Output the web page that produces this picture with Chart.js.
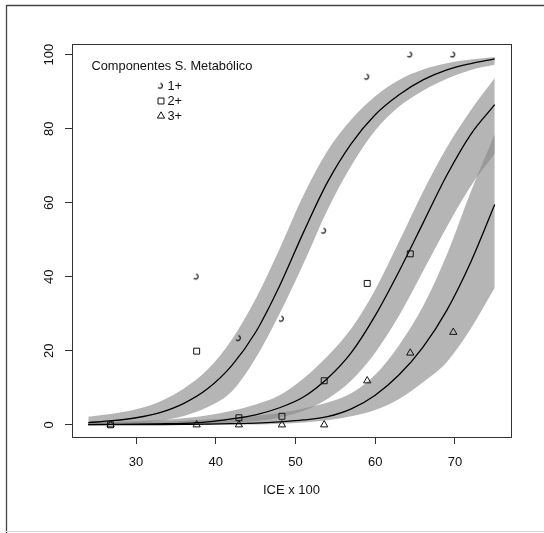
<!DOCTYPE html>
<html><head><meta charset="utf-8">
<script src="https://cdn.jsdelivr.net/npm/chart.js@4/dist/chart.umd.min.js"></script>
<style>html,body{margin:0;padding:0;background:#fff;}canvas{display:block;}</style>
</head><body>
<canvas id="c" width="544" height="533"></canvas>
<script>
// observed proportions (%)
const obsX = [26.8, 37.6, 42.9, 48.3, 53.6, 59.0, 64.4, 69.8];
const obs1 = [null, 40.0, 23.4, 28.6, 52.4, 94.0, 100, 100];
const obs2 = [0, 19.9, 1.9, 2.3, 11.9, 38.2, 46.2, null];
const obs3 = [0, 0, 0, 0, 0, 11.9, 19.4, 25.0];

// fitted curves and confidence bands (%)
const curveX = [24, 27, 30, 33, 36, 39, 42, 45, 48, 51, 54, 57, 60, 63, 66, 69, 72, 75];
const fit1 = [0.6, 1.1, 1.9, 3.3, 5.8, 9.8, 16, 25, 37.5, 52, 65.5, 76, 83.8, 89.2, 93.2, 95.9, 97.6, 98.9];
const up1  = [2.2, 3.0, 4.2, 6.3, 9.8, 15, 23, 34, 47.5, 62, 74, 82.5, 88.8, 93.2, 96, 97.7, 98.7, 99.4];
const lo1  = [0.1, 0.2, 0.5, 1.1, 2.4, 4.8, 9, 18, 30, 43.5, 58, 70, 79.5, 86, 90.3, 93.5, 95.9, 97.3];
const fit2 = [0.05, 0.1, 0.15, 0.25, 0.4, 0.8, 1.6, 2.7, 4.6, 7.5, 12.5, 19.5, 29.5, 41.5, 54.5, 67.5, 78.5, 86.5];
const up2  = [0.6, 0.8, 1.0, 1.3, 1.8, 2.6, 3.8, 5.5, 8, 12.5, 18.5, 26, 36.5, 49.5, 63, 75, 85, 93.7];
const lo2  = [0, 0, 0, 0.05, 0.1, 0.2, 0.5, 1.0, 2.0, 3.8, 7, 12, 19.5, 29.5, 41.5, 53.5, 64.5, 73.3];
const fit3 = [0.02, 0.03, 0.05, 0.08, 0.12, 0.18, 0.3, 0.45, 0.8, 1.3, 2.2, 4.3, 8.0, 13.5, 21, 31, 44, 59.5];
const up3  = [0.5, 0.6, 0.7, 0.9, 1.1, 1.4, 1.8, 2.4, 3.2, 4.4, 6.0, 8.5, 13.5, 21.5, 32, 46, 63, 78.5];
const lo3  = [0, 0, 0, 0, 0, 0, 0.05, 0.1, 0.3, 0.6, 1.2, 2.3, 4.0, 7.0, 11.5, 17, 26, 37];

const xTicks = [30, 40, 50, 60, 70];
const yTicks = [0, 20, 40, 60, 80, 100];
const seriesNames = ['1+', '2+', '3+'];
const legendTitle = 'Componentes S. Metabólico';
const xTitle = 'ICE x 100';

const FONT = "'Liberation Sans', Arial, sans-serif";
const INK = '#111';
const BAND = 'rgba(135,135,135,0.62)';

function xy(xs, ys) { const o = []; xs.forEach((x, i) => { if (ys[i] !== null && ys[i] !== undefined) o.push({x: x, y: ys[i]}); }); return o; }

function makeGlyph() {
  const c = document.createElement('canvas'); c.width = 8; c.height = 9;
  const g = c.getContext('2d'); g.strokeStyle = INK; g.lineWidth = 1.2;
  g.beginPath(); g.arc(3, 4.3, 2.4, -Math.PI * 0.45, Math.PI * 0.78); g.stroke();
  return c;
}
const glyph = makeGlyph();

function pts(data, style, r) {
  return {data: data, showLine: false, order: 0, pointStyle: style, pointRadius: r, pointHoverRadius: r,
    pointBorderColor: INK, pointBackgroundColor: 'rgba(0,0,0,0)', pointBorderWidth: 1, borderWidth: 0};
}
function fitLine(data) {
  return {data: data, order: 1, borderColor: '#000', borderWidth: 1.3, pointRadius: 0, fill: false, cubicInterpolationMode: 'monotone'};
}
function bandEdge(data, fillTarget) {
  return {data: data, order: 2, borderWidth: 0, borderColor: 'rgba(0,0,0,0)', pointRadius: 0,
    backgroundColor: BAND, fill: fillTarget, cubicInterpolationMode: 'monotone'};
}

const datasets = [
  pts(xy(obsX, obs1), glyph, 4),            // 0
  pts(xy(obsX, obs2), 'rect', 4.2),         // 1
  pts(xy(obsX, obs3), 'triangle', 4.2),     // 2
  fitLine(xy(curveX, fit1)),                // 3
  fitLine(xy(curveX, fit2)),                // 4
  fitLine(xy(curveX, fit3)),                // 5
  bandEdge(xy(curveX, up1), 7),             // 6
  bandEdge(xy(curveX, lo1), false),         // 7
  bandEdge(xy(curveX, up2), 9),             // 8
  bandEdge(xy(curveX, lo2), false),         // 9
  bandEdge(xy(curveX, up3), 11),            // 10
  bandEdge(xy(curveX, lo3), false)          // 11
];

const decor = {
  id: 'decor',
  afterDraw(chart) {
    const ctx = chart.ctx, ca = chart.chartArea;
    ctx.save();
    ctx.strokeStyle = '#333'; ctx.lineWidth = 1;
    ctx.strokeRect(ca.left + 0.5, ca.top + 0.5, ca.right - ca.left, ca.bottom - ca.top);
    ctx.strokeStyle = '#444'; ctx.lineWidth = 1.3;
    ctx.beginPath(); ctx.moveTo(6.5, 533); ctx.lineTo(6.5, 5.5); ctx.lineTo(544, 5.5); ctx.stroke();
    ctx.strokeStyle = '#d4d4d4'; ctx.lineWidth = 1.2;
    ctx.beginPath(); ctx.moveTo(6, 531.5); ctx.lineTo(544, 531.5); ctx.stroke();
    const ys = chart.scales.y;
    ctx.fillStyle = INK; ctx.font = '13px ' + FONT; ctx.textAlign = 'center'; ctx.textBaseline = 'middle';
    ys.ticks.forEach(t => {
      const py = ys.getPixelForValue(t.value);
      ctx.save(); ctx.translate(49, py); ctx.rotate(-Math.PI / 2); ctx.fillText(String(t.value), 0, 0); ctx.restore();
    });
    ctx.font = '12.8px ' + FONT; ctx.textAlign = 'left'; ctx.textBaseline = 'middle';
    ctx.fillText(legendTitle, 91.5, 66.5);
    const ly = [86, 101, 116];
    const styles = [glyph, 'rect', 'triangle'];
    const radii = [4, 4.2, 4.2];
    seriesNames.forEach((n, i) => {
      ctx.strokeStyle = INK; ctx.lineWidth = 1; ctx.fillStyle = 'rgba(0,0,0,0)';
      Chart.helpers.drawPoint(ctx, {pointStyle: styles[i], radius: radii[i], borderWidth: 1}, 161, ly[i]);
      ctx.fillStyle = INK;
      ctx.fillText(n, 167.5, ly[i] + 0.5);
    });
    ctx.restore();
  }
};

new Chart(document.getElementById('c'), {
  type: 'line',
  data: {datasets: datasets},
  plugins: [decor],
  options: {
    responsive: false, animation: false, devicePixelRatio: 1,
    layout: {padding: {left: 0, top: 44, right: 33, bottom: 0}},
    plugins: {legend: {display: false}, tooltip: {enabled: false}, filler: {propagate: false, drawTime: 'beforeDatasetDraw'}},
    scales: {
      x: {
        type: 'linear', min: 21.96, max: 77.04,
        afterBuildTicks: s => { s.ticks = xTicks.map(v => ({value: v})); },
        afterFit: s => { s.height = 96; },
        grid: {drawOnChartArea: false, drawTicks: true, tickLength: 7, color: '#333', lineWidth: 1},
        border: {display: false},
        ticks: {font: {family: FONT, size: 13}, color: INK, padding: 10.5, maxRotation: 0, autoSkip: false, callback: v => String(v)},
        title: {display: true, text: xTitle, font: {family: FONT, size: 13}, color: INK, padding: {top: 4, bottom: 34.5}}
      },
      y: {
        type: 'linear', min: -3.3, max: 102.9,
        afterBuildTicks: s => { s.ticks = yTicks.map(v => ({value: v})); },
        afterFit: s => { s.width = 72; },
        grid: {drawOnChartArea: false, drawTicks: true, tickLength: 7, color: '#333', lineWidth: 1},
        border: {display: false},
        ticks: {display: false}
      }
    }
  }
});
</script>
</body></html>
